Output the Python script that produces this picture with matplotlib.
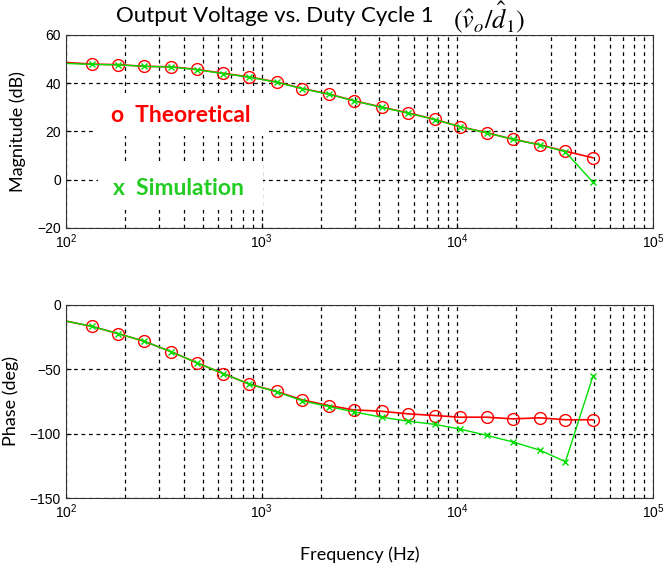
import matplotlib
matplotlib.use('Agg')
import matplotlib.pyplot as plt
from matplotlib.patches import Rectangle
from matplotlib.ticker import LogLocator, NullFormatter

# frequency points (Hz); first point at 100 Hz carries no marker
freq = [100, 136, 185, 251, 346, 466, 637, 865, 1194, 1615, 2213, 2953,
        4101, 5610, 7690, 10300, 14120, 19180, 26400, 35700, 49400]

mag_theory = [48.6, 47.9, 47.7, 47.0, 46.8, 45.7, 44.1, 42.6, 40.5, 37.8, 35.5,
              32.8, 30.1, 27.7, 25.0, 22.0, 19.5, 16.8, 14.5, 11.8, 9.1]
mag_sim = [48.2, 47.8, 47.6, 47.0, 46.7, 45.6, 44.0, 42.5, 40.4, 37.7, 35.4,
           32.7, 30.0, 27.6, 24.9, 22.0, 19.4, 16.8, 14.4, 11.6, -1.1]

phase_theory = [-12.5, -16.7, -22.3, -28.2, -36.4, -44.9, -53.3, -61.5, -67.2,
                -73.8, -78.2, -81.5, -82.6, -84.6, -85.9, -87.2, -87.2, -88.5,
                -87.7, -89.2, -89.2]
phase_sim = [-12.5, -16.7, -22.3, -28.2, -36.4, -44.9, -53.3, -61.5, -67.5,
             -74.5, -79.0, -83.0, -87.2, -90.3, -92.8, -96.4, -101.3, -106.4,
             -112.8, -121.8, -55.1]

red = '#ff0000'
green = '#00e000'

fig = plt.figure(figsize=(6.65, 5.75), dpi=100)
ax1 = fig.add_axes([0.0992, 0.6035, 0.8827, 0.3357])
ax2 = fig.add_axes([0.0992, 0.1339, 0.8827, 0.3357])


def style(ax, ylim, yticks):
    ax.set_xscale('log')
    ax.set_xlim(1e2, 1e5)
    ax.set_ylim(*ylim)
    ax.set_yticks(yticks)
    ax.xaxis.set_minor_locator(LogLocator(base=10, subs=range(2, 10)))
    ax.xaxis.set_minor_formatter(NullFormatter())
    ax.grid(True, which='major', color='black', linestyle=(0, (3, 3)), linewidth=0.9)
    ax.grid(True, which='minor', axis='x', color='black', linestyle=(0, (3, 3)), linewidth=0.9)
    ax.tick_params(which='both', direction='in', labelsize=10)
    ax.tick_params(which='minor', length=0)
    for lab in ax.get_xticklabels() + ax.get_yticklabels():
        lab.set_fontfamily('Liberation Sans')
    for s in ax.spines.values():
        s.set_color('#333333')


ax1.plot(freq, mag_theory, '-', color=red, lw=1.2, marker='o', markersize=8.5,
         markerfacecolor='none', markeredgecolor=red, markevery=range(1, len(freq)))
ax1.plot(freq, mag_sim, '-', color=green, lw=1.0, marker='x', markersize=5,
         markeredgecolor=green, markevery=range(1, len(freq)))
style(ax1, (-20, 60), [-20, 0, 20, 40, 60])

ax2.plot(freq, phase_theory, '-', color=red, lw=1.2, marker='o', markersize=8.5,
         markerfacecolor='none', markeredgecolor=red, markevery=range(1, len(freq)))
ax2.plot(freq, phase_sim, '-', color=green, lw=1.0, marker='x', markersize=5,
         markeredgecolor=green, markevery=range(1, len(freq)))
style(ax2, (-150, 0), [-150, -100, -50, 0])

# white label boxes covering the grid behind the text
for x0, y0, w, h in [(0.046, 0.477, 0.298, 0.223), (0.0545, 0.093, 0.281, 0.244)]:
    ax1.add_patch(Rectangle((x0, y0), w, h, transform=ax1.transAxes,
                            facecolor='white', edgecolor='none', zorder=1.8))
ax1.text(0.076, 0.585, 'o  Theoretical', transform=ax1.transAxes, color=red,
         fontsize=16.5, fontweight='bold', family='Lato', va='center', zorder=3)
ax1.text(0.080, 0.207, 'x  Simulation', transform=ax1.transAxes, color='#22cc22',
         fontsize=16.5, fontweight='bold', family='Lato', va='center', zorder=3)

ax1.set_ylabel('Magnitude (dB)', fontsize=13, family='Lato', labelpad=8)
ax2.set_ylabel('Phase (deg)', fontsize=13, family='Lato', labelpad=8)
fig.text(0.541, 0.035, 'Frequency (Hz)', ha='center', va='center', fontsize=13, family='Lato')
fig.text(0.652, 0.972, 'Output Voltage vs. Duty Cycle 1', ha='right', va='center',
         fontsize=16, family='Lato')
fig.text(0.681, 0.969, r'$(\hat{v}_o/\hat{d}_1)$', ha='left', va='center',
         fontsize=19, math_fontfamily='stix')

fig.savefig('out.png', dpi=100)
